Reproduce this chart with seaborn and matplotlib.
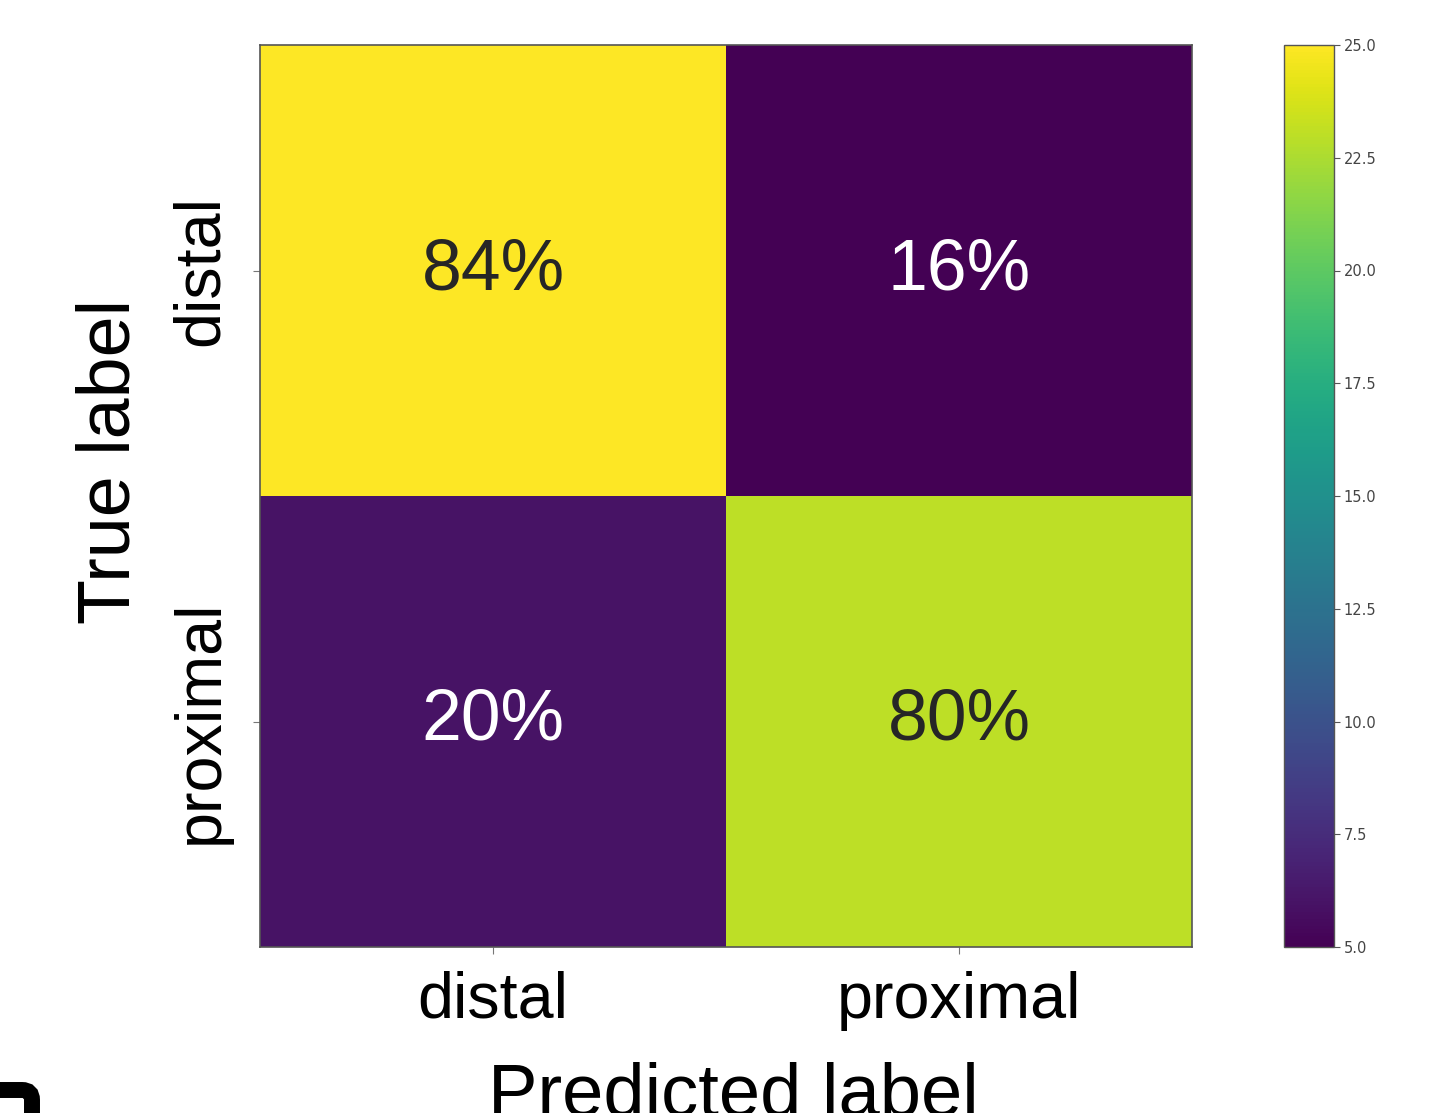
import numpy as np
import pandas as pd
import matplotlib
matplotlib.use("Agg")
import matplotlib.pyplot as plt
from matplotlib.patches import FancyBboxPatch
from matplotlib.transforms import IdentityTransform
import seaborn as sns

# Confusion matrix data
classes = ["distal", "proximal"]
counts = [[25, 5],
          [6, 23]]
pct_labels = [["84%", "16%"],
              ["20%", "80%"]]
cbar_ticks = [5.0, 7.5, 10.0, 12.5, 15.0, 17.5, 20.0, 22.5, 25.0]

sns.set_theme(style="white")
plt.rcParams["font.family"] = ["Liberation Sans", "DejaVu Sans"]

W, H = 1440, 1113
fig = plt.figure(figsize=(W / 100, H / 100), dpi=100)
fig.patch.set_facecolor("white")


def px_axes(x0, y0, x1, y1):
    return fig.add_axes([x0 / W, 1 - y1 / H, (x1 - x0) / W, (y1 - y0) / H])


ax = px_axes(260, 45, 1192, 947)
cax = px_axes(1284, 45, 1334, 947)

df = pd.DataFrame(counts, index=classes, columns=classes)
sns.heatmap(df, ax=ax, cmap="viridis", vmin=5, vmax=25,
            annot=np.array(pct_labels), fmt="",
            annot_kws={"fontsize": 51.5, "fontfamily": "Liberation Sans"},
            cbar_ax=cax, cbar_kws={"ticks": cbar_ticks, "format": "%.1f"})

# frame around the matrix
for sp in ax.spines.values():
    sp.set_visible(True)
    sp.set_color("#555555")
    sp.set_linewidth(1.2)

ax.tick_params(axis="both", which="major", length=5, width=0.8,
               color="#777777", labelsize=46.5, labelcolor="black",
               bottom=True, left=True)
ax.tick_params(axis="x", pad=12)
ax.tick_params(axis="y", pad=16)
ax.set_xticklabels(classes, rotation=0)
ax.set_yticklabels(classes, rotation=90, va="center")
ax.set_xlabel("")
ax.set_ylabel("")

# axis titles
fig.text(733 / W, 1 - 1116 / H, "Predicted label", fontsize=53.5,
         ha="center", va="baseline", color="black")
fig.text(130 / W, 1 - 461 / H, "True label", fontsize=53, rotation=90,
         rotation_mode="anchor", ha="center", va="baseline", color="black")

# colorbar styling
cb = ax.collections[0].colorbar
cb.outline.set_visible(True)
cb.outline.set_edgecolor("#555555")
cb.outline.set_linewidth(1.0)
cax.tick_params(length=4, width=0.8, color="#555555", labelsize=10.5,
                labelcolor="#444444", pad=3, right=True)
for t in cax.get_yticklabels():
    t.set_fontfamily("DejaVu Sans")

# dark corner mark in the lower-left
fig.patches.append(FancyBboxPatch((-100, -100), 132, 123,
                                  boxstyle="round,pad=0,rounding_size=10",
                                  facecolor="none", edgecolor="black",
                                  linewidth=11.5, transform=IdentityTransform(),
                                  figure=fig))

fig.savefig("out.png", dpi=100)
